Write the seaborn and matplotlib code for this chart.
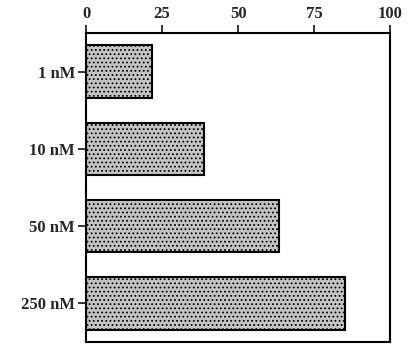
import pandas as pd
import numpy as np
from matplotlib import pyplot as plt
import seaborn as sns

# concentrations and response
conc = ['1 nM', '10 nM', '50 nM', '250 nM']
response = [21.7, 38.8, 63.5, 85.2]
xticks = [0, 25, 50, 75, 100]

df = pd.DataFrame({'conc': conc, 'response': response})

sns.set_style('white')
plt.rcParams['font.family'] = ['Liberation Serif', 'DejaVu Serif']
plt.rcParams['hatch.color'] = '#2a2a2a'
plt.rcParams['hatch.linewidth'] = 0.8

fig = plt.figure(figsize=(4.08, 3.5), dpi=100)
ax = fig.add_axes([0.211, 0.023, 0.745, 0.883])

sns.barplot(data=df, x='response', y='conc', orient='h', width=0.68,
            color='#c4c4c4', edgecolor='black', linewidth=1.5, ax=ax)
for p in ax.patches:
    p.set_hatch('....')

ax.set_xlim(0, 100)
ax.set_ylim(3.5, -0.5)
ax.set_xticks(xticks)
ax.xaxis.tick_top()
ax.set_xlabel('')
ax.set_ylabel('')
for s in ax.spines.values():
    s.set_visible(True)
    s.set_color('black')
    s.set_linewidth(1.5)
ax.tick_params(axis='x', top=True, bottom=False, direction='out', length=6, width=1.3,
               labelsize=12, pad=2)
ax.tick_params(axis='y', left=True, direction='out', length=6, width=1.3, labelsize=12, pad=2)
for t in ax.get_xticklabels() + ax.get_yticklabels():
    t.set_fontweight('bold')

fig.savefig('out.png', dpi=100)
